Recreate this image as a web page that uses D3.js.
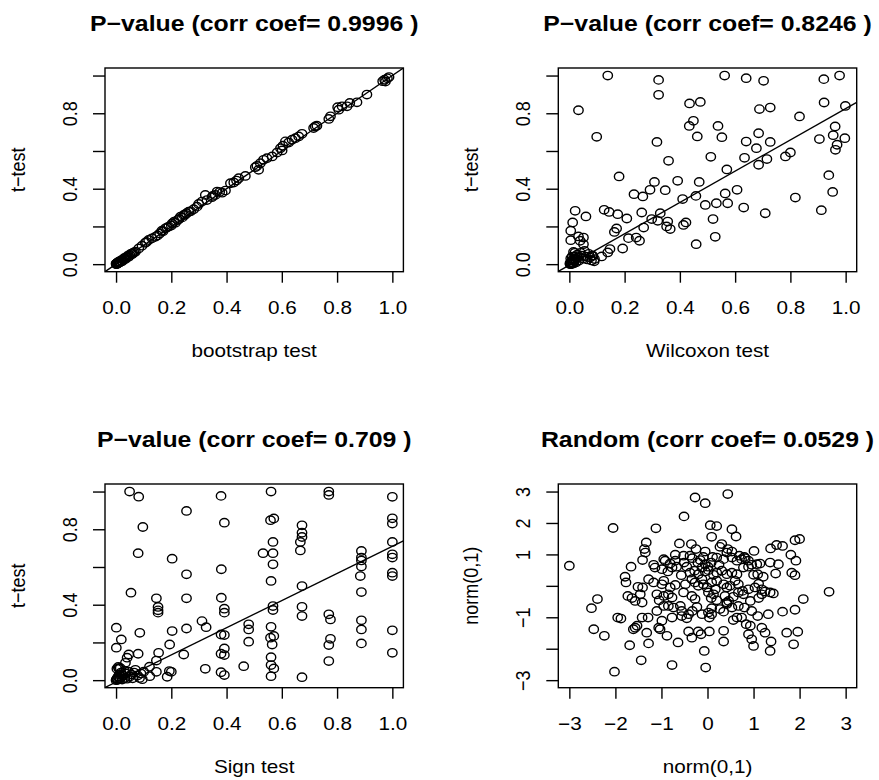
<!DOCTYPE html>
<html>
<head>
<meta charset="utf-8">
<style type="text/css">
	body {
		margin: 0;
		background: #ffffff;
	}
	.vis-pvals text {
		font-family: "Liberation Sans", Arial, Helvetica, sans-serif;
		fill: #000000;
		font-size: 18px;
	}
	.vis-pvals .main-title {
		font-size: 21.6px;
		font-weight: 700;
	}
	.box-pvals {
		fill: none;
		stroke: #000000;
		stroke-width: 1.4;
	}
	.vis-pvals .tick line {
		stroke: #000000;
		stroke-width: 1.4;
	}
	.dot-pvals {
		fill: none;
		stroke: #000000;
		stroke-width: 1.4;
	}
	.fit-pvals {
		fill: none;
		stroke: #000000;
		stroke-width: 1.4;
	}
</style>
</head>
<body>

<div class="vis-pvals"></div>

<script src="https://d3js.org/d3.v7.min.js"></script>

<script>

	// ---- //
	// Data //
	// ---- //

	// t-test vs bootstrap test p-values
	let bootP = [0.000,0.001,0.002,0.003,0.004,0.005,0.006,0.008,0.009,0.010,0.012,0.013,0.015,0.018,0.020,0.022,0.025,0.028,0.030,0.034,0.035,0.040,0.045,0.046,0.050,0.055,0.058,0.060,0.065,0.070,
		0.082,0.094,0.106,0.110,0.118,0.130,0.142,0.150,0.158,0.166,0.170,0.179,0.185,0.191,0.200,0.203,0.210,0.215,0.223,0.228,0.233,0.240,0.245,0.250,0.255,0.263,0.270,0.281,0.293,0.299,0.311,0.323,0.329,0.347,0.350,0.359,0.366,0.375,0.384,0.396,0.414,0.426,0.436,0.444,0.468,0.504,0.510,0.516,0.522,0.534,0.546,0.565,0.583,0.595,0.601,0.604,0.613,0.625,0.637,0.649,0.661,0.673,0.715,0.721,0.727,0.770,0.776,0.802,0.806,0.818,0.836,0.846,0.872,0.908,0.965,0.972,0.975,0.982,0.988];
	let tBootP = [0.002,0.000,0.004,0.001,0.006,0.003,0.008,0.010,0.006,0.008,0.015,0.011,0.012,0.020,0.018,0.016,0.023,0.030,0.028,0.027,0.036,0.038,0.047,0.039,0.048,0.056,0.053,0.058,0.062,0.066,
		0.083,0.098,0.113,0.118,0.128,0.137,0.145,0.152,0.163,0.177,0.175,0.190,0.195,0.199,0.205,0.216,0.225,0.220,0.234,0.240,0.252,0.248,0.261,0.262,0.270,0.278,0.280,0.291,0.305,0.319,0.332,0.367,0.340,0.355,0.362,0.367,0.385,0.382,0.379,0.390,0.429,0.433,0.443,0.456,0.468,0.514,0.521,0.500,0.535,0.553,0.562,0.571,0.592,0.615,0.603,0.628,0.651,0.645,0.660,0.668,0.677,0.691,0.722,0.730,0.734,0.770,0.784,0.832,0.819,0.837,0.837,0.855,0.858,0.899,0.970,0.978,0.968,0.985,0.992];

	// t-test vs Wilcoxon test p-values
	let wilcoxP = [0.002,0.003,0.005,0.006,0.008,0.010,0.011,0.012,0.015,0.016,0.018,0.020,0.020,0.022,0.025,0.028,0.030,0.035,0.040,0.045,0.050,0.055,0.060,0.065,0.070,0.075,0.080,0.085,0.090,0.015,0.010,0.005,
		0.139,0.323,0.323,0.562,0.640,0.703,0.921,0.978,
		0.033,0.435,0.474,0.688,0.727,0.922,0.999,
		0.449,0.434,0.538,0.463,0.552,0.685,0.099,0.317,0.640,0.727,0.677,0.833,0.905,0.962,0.955,0.997,0.969,0.963,
		0.512,0.634,0.715,0.685,0.782,0.800,0.359,0.570,
		0.180,0.308,0.392,0.470,0.939,
		0.292,0.347,0.234,0.266,0.410,0.458,0.564,0.607,
		0.492,0.532,0.573,0.631,0.709,0.818,0.953,0.912,
		0.021,0.126,0.144,0.175,0.208,0.262,0.298,0.329,0.320,0.356,0.352,0.365,0.413,0.422,0.520,0.269,0.171,0.163,
		0.012,0.060,0.005,0.005,0.033,0.051,0.039,0.051,0.214,0.242,0.254,0.193,0.147,0.139,0.459,0.528,0.117,0.091,0.081];
	let tWilcoxP = [0.004,0.000,0.010,0.001,0.003,0.020,0.002,0.008,0.030,0.005,0.015,0.040,0.060,0.025,0.010,0.050,0.035,0.020,0.060,0.045,0.030,0.070,0.040,0.025,0.055,0.035,0.020,0.045,0.015,0.065,0.040,0.030,
		1.000,0.977,0.898,1.000,0.986,0.972,0.981,1.000,
		0.816,0.852,0.860,0.822,0.830,0.857,0.839,
		0.760,0.733,0.733,0.677,0.673,0.694,0.675,0.648,0.650,0.648,0.615,0.783,0.663,0.730,0.684,0.668,0.633,0.606,
		0.569,0.564,0.557,0.527,0.571,0.592,0.548,0.502,
		0.465,0.436,0.442,0.436,0.472,
		0.394,0.392,0.371,0.359,0.345,0.362,0.375,0.394,
		0.314,0.323,0.323,0.300,0.270,0.353,0.383,0.286,
		0.283,0.288,0.277,0.265,0.242,0.274,0.239,0.270,0.230,0.226,0.200,0.186,0.208,0.221,0.239,0.194,0.189,0.171,
		0.221,0.253,0.177,0.127,0.147,0.141,0.124,0.106,0.138,0.141,0.124,0.083,0.080,0.062,0.106,0.145,0.041,0.027,0.044];

	// t-test vs sign test p-values
	let signP = [0.000,0.002,0.004,0.006,0.008,0.010,0.012,0.015,0.018,0.020,0.022,0.025,0.030,0.032,0.035,0.040,0.045,0.050,0.055,0.060,0.065,0.070,0.078,0.085,0.090,0.095,0.100,0.003,0.008,0.015,
		0.049,0.082,0.097,0.080,0.054,0.001,0.019,0.001,0.086,0.046,0.040,0.080,0.034,0.010,
		0.146,0.152,0.152,0.152,0.154,0.146,0.121,0.122,0.146,
		0.255,0.203,0.255,0.255,0.255,0.203,0.194,0.245,0.185,0.200,0.193,
		0.311,0.326,0.323,
		0.380,0.392,0.381,0.381,0.392,0.392,0.380,0.392,0.392,0.380,0.392,0.380,0.392,
		0.462,0.480,0.480,0.480,
		0.561,0.559,0.571,0.568,0.532,0.568,0.568,0.561,0.568,0.568,0.561,0.559,0.571,0.565,0.561,0.561,0.571,0.561,
		0.673,0.673,0.673,0.667,0.667,0.673,0.673,0.673,0.673,
		0.770,0.770,0.770,0.776,0.776,0.770,0.770,
		0.888,0.888,0.888,0.888,0.884,0.888,0.888,0.888,0.888,
		1.000,1.000,1.000,1.000,1.000,1.000,1.000,1.000,1.000,1.000];
	let tSignP = [0.000,0.005,0.010,0.002,0.020,0.012,0.030,0.006,0.040,0.018,0.003,0.025,0.050,0.012,0.035,0.008,0.045,0.020,0.030,0.010,0.040,0.055,0.025,0.012,0.035,0.005,0.045,0.060,0.070,0.065,
		1.000,0.973,0.812,0.673,0.464,0.278,0.216,0.172,0.251,0.136,0.119,0.140,0.092,0.062,
		0.434,0.388,0.370,0.358,0.145,0.104,0.071,0.021,0.044,
		0.897,0.644,0.561,0.434,0.274,0.260,0.189,0.136,0.018,0.044,0.048,
		0.313,0.281,0.060,
		0.977,0.835,0.588,0.437,0.379,0.358,0.242,0.239,0.168,0.140,0.133,0.042,0.027,
		0.074,0.296,0.269,0.204,
		1.000,0.848,0.857,0.733,0.673,0.673,0.614,0.526,0.393,0.372,0.283,0.225,0.234,0.189,0.122,0.080,0.062,0.021,
		0.821,0.782,0.759,0.733,0.688,0.499,0.389,0.340,0.016,
		1.000,0.982,0.349,0.322,0.219,0.186,0.101,
		0.685,0.650,0.635,0.602,0.552,0.467,0.317,0.269,0.195,
		0.972,0.858,0.830,0.733,0.667,0.650,0.570,0.552,0.264,0.145];

	// Random normal pairs
	let normX = [-3.00,-2.05,-2.52,-2.39,-2.47,-2.24,-2.02,-1.95,-1.88,-1.79,-1.77,-1.66,-1.69,-1.44,-1.61,-1.57,-1.53,-1.73,-1.64,-1.57,-1.51,-1.41,-1.46,-1.42,-1.41,-1.37,-1.33,-1.35,-1.28,-1.32,-1.28,-1.42,-1.29,-1.12,-1.17,-1.14,-1.10,-1.03,-1.06,-0.88,-0.77,-0.64,-0.51,-0.27,-0.05,0.44,0.06,0.20,0.09,0.53,0.62,-0.07,-0.04,0.35,1.00,1.36,1.38,1.87,1.72,1.96,1.63,1.90,2.08,2.64,1.90,2.00,1.81,1.92,1.83,1.90,1.37,1.50,1.63,1.36,1.54,1.48,1.01,1.32,1.25,1.18,0.89,0.96,0.84,0.93,
		-0.61,-0.35,-0.25,-0.05,0.27,0.31,0.44,0.53,0.69,0.80,
		-0.95,-0.92,-0.81,-0.70,-0.70,-0.52,-0.51,-0.38,-0.33,-0.21,-0.16,-0.09,-0.05,0.01,0.08,0.11,0.20,0.25,0.35,0.42,0.53,0.64,0.74,0.82,0.89,0.96,1.07,1.14,
		-0.99,-0.86,-0.77,-0.67,-0.57,-0.45,-0.38,-0.28,-0.20,-0.12,-0.05,0.02,0.13,0.20,0.31,0.42,0.53,0.64,0.78,0.89,1.00,1.09,1.21,
		-1.17,-0.99,-0.95,-0.81,-0.70,-0.48,-0.34,-0.27,-0.20,-0.12,-0.09,-0.01,0.09,0.20,0.17,0.35,0.42,0.49,0.60,0.67,0.76,0.89,1.03,1.11,1.18,1.25,1.36,1.43,
		-1.10,-1.05,-0.95,-0.85,-0.77,-0.52,-0.34,-0.27,0.02,0.08,0.13,0.20,0.38,0.42,0.46,0.56,0.67,0.78,0.93,1.11,1.18,
		-0.95,-0.85,-0.74,-0.59,-0.56,-0.41,-0.33,-0.23,-0.12,0.02,0.09,0.27,0.35,0.42,0.53,0.67,0.80,0.96,1.09,0.64,0.74,
		-0.99,-0.77,-0.56,-0.45,-0.41,-0.34,-0.20,-0.14,0.04,0.04,0.09,0.35,0.56];
	let normY = [0.64,1.84,-0.71,-0.42,-1.38,-1.59,-2.73,-1.01,-1.04,0.29,0.11,0.61,-1.89,-2.37,-1.38,-1.33,-1.27,-0.32,-0.39,-0.48,-0.03,-0.05,-0.27,-0.53,0.82,1.17,1.38,1.06,0.21,-1.49,-1.83,-1.01,-1.01,1.83,0.67,0.58,-0.80,-1.38,-1.33,-1.59,-2.52,-1.80,2.21,2.81,2.63,2.92,1.93,1.90,1.56,1.80,1.57,-2.07,-2.60,-1.77,-1.91,-2.07,-1.77,-1.86,-1.49,-1.46,-0.82,-0.76,-0.42,-0.19,1.45,1.49,0.99,0.80,0.42,0.34,1.19,1.30,1.27,0.74,0.69,0.39,1.11,-0.90,-1.49,-1.33,-1.54,-1.70,-1.22,-1.27,
		1.35,1.33,1.17,1.09,1.24,1.33,1.17,1.09,0.96,0.92,
		0.85,0.80,0.71,0.99,0.80,0.96,0.74,0.96,0.88,0.74,0.82,0.92,0.69,0.61,0.74,0.92,0.90,0.67,0.85,1.06,0.90,0.80,0.85,0.88,0.80,0.67,0.69,0.71,
		0.53,0.46,0.58,0.61,0.34,0.61,0.42,0.48,0.37,0.58,0.46,0.50,0.35,0.42,0.48,0.37,0.42,0.37,0.58,0.61,0.35,0.37,0.29,
		0.11,0.05,0.16,-0.05,0.03,0.05,0.21,0.11,0.00,0.21,0.05,-0.05,0.11,0.16,-0.11,0.05,-0.05,0.00,0.16,0.05,-0.16,-0.11,-0.05,0.07,-0.11,-0.18,-0.21,-0.24,
		-0.27,-0.46,-0.32,-0.27,-0.37,-0.21,-0.32,-0.42,-0.21,-0.39,-0.27,-0.46,-0.32,-0.53,-0.48,-0.35,-0.21,-0.27,-0.48,-0.39,-0.27,
		-0.64,-0.64,-0.69,-0.64,-0.80,-0.90,-0.80,-0.67,-0.90,-0.85,-0.71,-0.74,-0.82,-0.58,-0.69,-0.64,-0.69,-0.80,-0.96,-1.01,-1.01,
		-1.11,-1.01,-0.96,-1.03,-1.45,-1.65,-1.45,-1.54,-1.45,-1.01,-0.90,-1.43,-1.09];

	// Fitted lines [intercept, slope]
	let fitBoot = [0.000, 1.000];
	let fitWilcox = [-0.005, 0.830];
	let fitSign = [-0.010, 0.720];

	// Axis ticks and labels
	let pRange = [0, 1];
	let pTicks = [0, 0.2, 0.4, 0.6, 0.8, 1.0];
	let pXLabels = ["0.0", "0.2", "0.4", "0.6", "0.8", "1.0"];
	let pYLabels = ["0.0", "", "0.4", "", "0.8", ""];
	let normRange = [-3, 3];
	let normTicks = [-3, -2, -1, 0, 1, 2, 3];
	let normXLabels = ["\u22123", "\u22122", "\u22121", "0", "1", "2", "3"];
	let normYLabels = ["\u22123", "", "\u22121", "", "1", "2", "3"];

	// Titles
	let titles = [
		"P\u2212value (corr coef= 0.9996 )",
		"P\u2212value (corr coef= 0.8246 )",
		"P\u2212value (corr coef= 0.709 )",
		"Random (corr coef= 0.0529 )"
	];
	let xLabels = ["bootstrap test", "Wilcoxon test", "Sign test", "norm(0,1)"];
	let yLabels = ["t\u2212test", "t\u2212test", "t\u2212test", "norm(0,1)"];


	function pvalvis() {

		// ----- //
		// Setup //
		// ----- //

		let colLeft = [105, 558.3],
			rowTop = [68, 484],
			boxW = 298.4,
			boxH = 203.7,
			stretch = 1.15;   // glyphs in the picture are a bit wider than tall

		let svg = d3.select(".vis-pvals")
			.append("svg")
				.attr("width", 879)
				.attr("height", 780);

		// R style axis range: data range padded 4% on each side
		function rExtend(r) {
			let pad = (r[1] - r[0]) * 0.04;
			return [r[0] - pad, r[1] + pad];
		}

		let panels = [
			{x: bootP, y: tBootP, fit: fitBoot, xr: pRange, yr: pRange, xt: pTicks, yt: pTicks, xl: pXLabels, yl: pYLabels, col: 0, row: 0},
			{x: wilcoxP, y: tWilcoxP, fit: fitWilcox, xr: pRange, yr: pRange, xt: pTicks, yt: pTicks, xl: pXLabels, yl: pYLabels, col: 1, row: 0},
			{x: signP, y: tSignP, fit: fitSign, xr: pRange, yr: pRange, xt: pTicks, yt: pTicks, xl: pXLabels, yl: pYLabels, col: 0, row: 1},
			{x: normX, y: normY, fit: null, xr: normRange, yr: normRange, xt: normTicks, yt: normTicks, xl: normXLabels, yl: normYLabels, col: 1, row: 1}
		];

		panels.forEach(function(p, i) {

			let left = colLeft[p.col],
				top = rowTop[p.row];

			let x = d3.scaleLinear().domain(rExtend(p.xr)).range([0, boxW]);
			let y = d3.scaleLinear().domain(rExtend(p.yr)).range([boxH, 0]);

			let g = svg.append("g")
				.attr("transform", "translate(" + left + "," + top + ")");

			g.append("clipPath")
				.attr("id", "clip-pvals-" + i)
				.append("rect")
					.attr("width", boxW)
					.attr("height", boxH);

			// TITLE
			g.append("text")
				.attr("class", "main-title")
				.attr("transform", "translate(" + boxW / 2 + ",-37) scale(" + stretch + ",1)")
				.style("text-anchor", "middle")
				.text(titles[i]);

			// X-AXIS
			let xAxis = d3.axisBottom(x)
				.tickValues(p.xt)
				.tickSize(11)
				.tickFormat((d, j) => p.xl[j]);
			g.append("g")
				.attr("transform", "translate(0," + boxH + ")")
				.call(xAxis)
				.call(a => a.select(".domain").remove())
				.selectAll("text")
					.attr("x", 0)
					.attr("y", 0)
					.attr("dy", null)
					.attr("transform", "translate(0,42.3) scale(" + stretch + ",1)")
					.style("text-anchor", "middle");

			// Y-AXIS
			let yAxis = d3.axisLeft(y)
				.tickValues(p.yt)
				.tickSize(12)
				.tickFormat((d, j) => p.yl[j]);
			g.append("g")
				.call(yAxis)
				.call(a => a.select(".domain").remove())
				.selectAll("text")
					.attr("x", 0)
					.attr("y", 0)
					.attr("dy", null)
					.attr("transform", "translate(-28.5,0) scale(" + stretch + ",1) rotate(-90)")
					.style("text-anchor", "middle");

			// AXIS TITLES
			g.append("text")
				.attr("transform", "translate(" + boxW / 2 + "," + (boxH + 85.3) + ") scale(" + stretch + ",1)")
				.style("text-anchor", "middle")
				.text(xLabels[i]);
			g.append("text")
				.attr("transform", "translate(-80," + boxH / 2 + ") scale(" + stretch + ",1) rotate(-90)")
				.style("text-anchor", "middle")
				.text(yLabels[i]);

			// POINTS
			g.append("g")
				.attr("clip-path", "url(#clip-pvals-" + i + ")")
				.selectAll("ellipse")
				.data(d3.zip(p.x, p.y))
				.enter().append("ellipse")
					.attr("class", "dot-pvals")
					.attr("cx", d => x(d[0]))
					.attr("cy", d => y(d[1]))
					.attr("rx", 4.7)
					.attr("ry", 4.2);

			// FITTED LINE
			if (p.fit) {
				let ends = x.domain().map(v => [v, p.fit[0] + p.fit[1] * v]);
				g.append("path")
					.datum(ends)
					.attr("class", "fit-pvals")
					.attr("clip-path", "url(#clip-pvals-" + i + ")")
					.attr("d", d3.line().x(d => x(d[0])).y(d => y(d[1])));
			}

			// BOX
			g.append("rect")
				.attr("class", "box-pvals")
				.attr("width", boxW)
				.attr("height", boxH);
		});
	}

	pvalvis();
</script>
</body>
</html>
